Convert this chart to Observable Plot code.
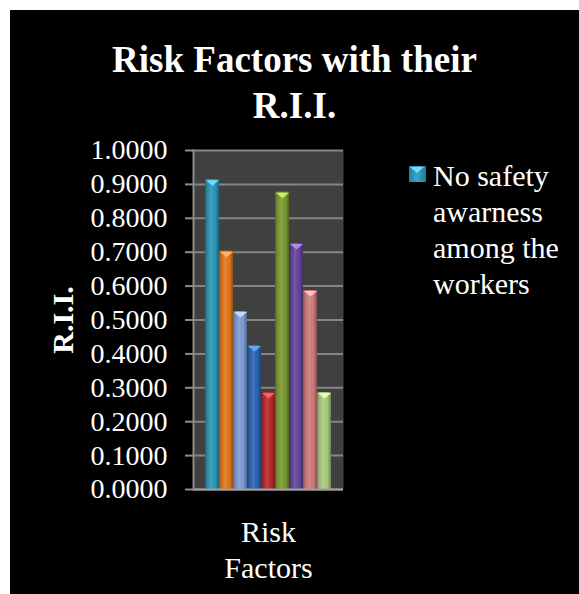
<!DOCTYPE html>
<html>
<head>
<meta charset="utf-8">
<script src="https://cdn.jsdelivr.net/npm/d3@7"></script>
<script src="https://cdn.jsdelivr.net/npm/@observablehq/plot@0.6"></script>
<style>
  html, body { margin: 0; padding: 0; background: #ffffff; }
  #page { position: relative; width: 579px; height: 594px; background: #ffffff; overflow: hidden;
          font-family: "Liberation Serif", Tinos, "Times New Roman", Times, "DejaVu Serif", serif; }
  #panel { position: absolute; left: 10px; top: 10px; width: 569px; height: 584px; background: #000000; }
  #title { position: absolute; left: 10px; top: 37px; width: 569px; text-align: center; color: #ffffff;
           font-weight: bold; font-size: 37px; line-height: 46px; }
  #chart { position: absolute; left: 0px; top: 130px; }
  #legend { position: absolute; left: 409px; top: 158px; color: #ffffff; font-size: 30px; line-height: 36px; }
  #legend .swatch { position: absolute; left: 0px; top: 8px; width: 17px; height: 16px;
            background: linear-gradient(90deg, #1f7f9c 0%, #35a9cc 45%, #2a92b3 75%, #1d7690 100%); }
  #legend .swatch::after { content: ""; position: absolute; left: 1px; top: 1px; width: 0; height: 0;
            border-left: 7.5px solid transparent; border-right: 7.5px solid transparent; border-top: 6px solid #74dcf8; }
  #legend .text { margin-left: 24px; }
</style>
</head>
<body>
<div id="page">
  <div id="panel"></div>
  <div id="title">Risk Factors with their<br>R.I.I.</div>
  <div id="chart"></div>
  <div id="legend"><div class="swatch"></div><div class="text">No safety<br>awarness<br>among the<br>workers</div></div>
</div>
<script>
// ---- data ----
const factors = [
  "No safety awarness among the workers",
  "Risk factor 2",
  "Risk factor 3",
  "Risk factor 4",
  "Risk factor 5",
  "Risk factor 6",
  "Risk factor 7",
  "Risk factor 8",
  "Risk factor 9"
];
const rii = [0.914, 0.703, 0.525, 0.425, 0.286, 0.877, 0.726, 0.587, 0.286];
const yTicks = [0, 0.1, 0.2, 0.3, 0.4, 0.5, 0.6, 0.7, 0.8, 0.9, 1.0];
const xLabel = ["Risk\nFactors"];
const yLabel = ["R.I.I."];
const barColors = ["#2c97b8", "#e3791b", "#7e9ed6", "#2e66b3", "#b8292d", "#7c9e33", "#65469c", "#d07d7c", "#abcb80"];
const capColors = ["#6fdcfa", "#ffb266", "#c2dcff", "#62a6ee", "#f06466", "#c6ec6a", "#ad8ded", "#ffc2c2", "#e2ffb8"];

const data = factors.map((f, i) => ({factor: f, rii: rii[i], i}));

const serif = "'Liberation Serif', Tinos, 'Times New Roman', Times, 'DejaVu Serif', serif";

// flat downward triangle for bar caps
const capSymbol = {
  draw(context, size) {
    const s = Math.sqrt(size);
    context.moveTo(-s, 0);
    context.lineTo(s, 0);
    context.lineTo(0, s * 0.85);
    context.closePath();
  }
};

const chart = Plot.plot({
  width: 360,
  height: 464,
  marginTop: 20,
  marginBottom: 105,
  marginLeft: 193,
  marginRight: 17,
  style: {background: "transparent", color: "#ffffff", fontFamily: serif},
  x: {domain: factors, paddingInner: 0, paddingOuter: 0.73, axis: null},
  y: {domain: [0, 1], axis: null},
  color: {type: "identity"},
  marks: [
    Plot.frame({fill: "#404040", stroke: null}),
    Plot.gridY(yTicks, {stroke: "#858585", strokeOpacity: 1, strokeWidth: 2}),
    Plot.barY(data, {x: "factor", y: "rii", fill: d => barColors[d.i]}),
    Plot.barY(data, {x: "factor", y: "rii", fill: "url(#barShade)"}),
    Plot.dot(data, {x: "factor", y: "rii", symbol: capSymbol, r: 3.7, fill: d => capColors[d.i], stroke: null, dy: 0.5}),
    Plot.ruleY([0], {stroke: "#a0a0a0", strokeWidth: 2}),
    Plot.frame({anchor: "left", stroke: "#8c8c8c", strokeWidth: 2}),
    Plot.axisY(yTicks, {tickFormat: d3.format(".4f"), tickSize: 8, tickPadding: 18, fontSize: 28, stroke: "#8c8c8c", strokeWidth: 2, fill: "#ffffff", label: null}),
    Plot.text(yLabel, {frameAnchor: "left", textAnchor: "middle", lineAnchor: "middle", rotate: -90, dx: -130, fontWeight: "bold", fontSize: 30, fill: "#ffffff"}),
    Plot.text(xLabel, {frameAnchor: "bottom", textAnchor: "middle", lineAnchor: "top", dy: 27, fontSize: 30, lineHeight: 1.2, fill: "#ffffff"})
  ]
});

// shading gradient (3D cylinder look) shared by all bars
const defs = d3.select(chart).insert("defs", ":first-child");
const grad = defs.append("linearGradient").attr("id", "barShade").attr("x1", "0").attr("x2", "1").attr("y1", "0").attr("y2", "0");
[[0, "#000", 0.35], [0.18, "#000", 0.08], [0.45, "#fff", 0.12], [0.72, "#000", 0.0], [1, "#000", 0.35]].forEach(([o, c, a]) => {
  grad.append("stop").attr("offset", o).attr("stop-color", c).attr("stop-opacity", a);
});

document.getElementById("chart").appendChild(chart);
</script>
</body>
</html>
